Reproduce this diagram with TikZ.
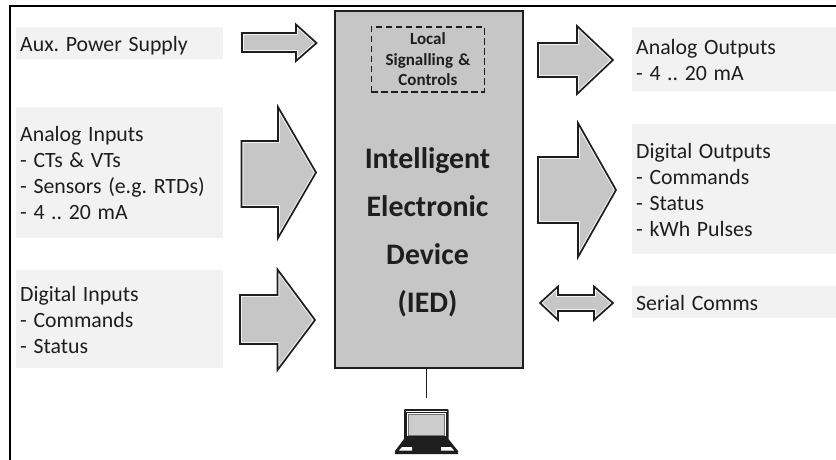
\documentclass[tikz,border=0pt]{standalone}
\usepackage{fontspec}
\setmainfont[WordSpace=1.35]{Carlito}
\frenchspacing
\definecolor{boxgray}{HTML}{F2F2F2}
\definecolor{iedgray}{HTML}{C6C6C6}
\definecolor{ink}{HTML}{1E1E1E}
\newcommand{\blockarrow}[1]{%
  \fill[iedgray] #1;
  \begin{scope}\clip #1; \draw[halo] #1; \end{scope}
  \draw[arrowline] #1;}
\tikzset{
  infobox/.style={fill=boxgray,draw=none,anchor=north west,inner sep=0pt},
  infotext/.style={anchor=west,inner sep=0pt,text=ink,align=left,
    font=\fontsize{21.8}{26.3}\selectfont},
  halo/.style={draw=white!75!iedgray,line width=3.8pt},
  arrowline/.style={draw=ink,line width=1.7pt,line join=miter},
  iedbox/.style={fill=iedgray,draw=ink,line width=2pt,anchor=north west,inner sep=0pt,
    minimum width=188pt,minimum height=357pt},
  localbox/.style={draw=ink,line width=1.8pt,dash pattern=on 6.5pt off 3.5pt,anchor=north west,
    inner sep=0pt,minimum width=113pt,minimum height=65pt,align=center,text=ink,
    font=\fontsize{17}{20.5}\selectfont\bfseries},
  iedtext/.style={anchor=center,text=ink,align=center,inner sep=0pt,
    font=\fontsize{29.8}{48}\selectfont\bfseries},
  frameline/.style={draw=black,line width=2pt},
  linkline/.style={draw=ink,line width=1.3pt}
}
\begin{document}
\begin{tikzpicture}[x=1pt,y=-1pt]
\useasboundingbox (0,0) rectangle (836,460);
\fill[white] (0,0) rectangle (836,460);
\draw[frameline] (9.5,460) -- (9.5,6) -- (836,6);

% text blocks
\node[infobox,minimum width=207pt,minimum height=32pt] (aux) at (16,27) {};
\node[infotext] (auxtext) at (20,45.5) {Aux. Power Supply};
\node[infobox,minimum width=207pt,minimum height=131pt] (ain) at (16,107) {};
\node[infotext] (aintext) at (20,173) {Analog Inputs\\- CTs \& VTs\\- Sensors (e.g. RTDs)\\- 4 .. 20 mA};
\node[infobox,minimum width=207pt,minimum height=98pt] (din) at (16,270) {};
\node[infotext] (dintext) at (20,320) {Digital Inputs\\- Commands\\- Status};
\node[infobox,minimum width=204pt,minimum height=64pt] (aout) at (632,27) {};
\node[infotext] (aouttext) at (636,60) {Analog Outputs\\- 4 .. 20 mA};
\node[infobox,minimum width=204pt,minimum height=130pt] (dout) at (632,124) {};
\node[infotext] (douttext) at (636,190) {Digital Outputs\\- Commands\\- Status\\- kWh Pulses};
\node[infobox,minimum width=204pt,minimum height=32pt] (ser) at (632,286) {};
\node[infotext] (sertext) at (636,303.5) {Serial Comms};

% IED
\node[iedbox] (ied) at (333.5,10) {};
\node[localbox] (local) at (370.5,26) {\raisebox{-1.5pt}{Local}\\\raisebox{-1.5pt}{Signalling \&}\\\raisebox{-1.5pt}{Controls}};
\node[iedtext] (iedlabel) at (427.5,232) {Intelligent\\Electronic\\Device\\(IED)};

% block arrows
\blockarrow{(242,33) -- (296,33) -- (296,24.5) -- (316.5,43) -- (296,61) -- (296,52) -- (242,52) -- cycle}
\blockarrow{(241.5,141) -- (278,141) -- (278,107) -- (316,172.5) -- (278,238) -- (278,207) -- (241.5,207) -- cycle}
\blockarrow{(240,295) -- (277.5,295) -- (277.5,269.5) -- (315,320) -- (277.5,370) -- (277.5,344) -- (240,344) -- cycle}
\blockarrow{(538,43) -- (577,43) -- (577,26) -- (613,60) -- (577,94) -- (577,77) -- (538,77) -- cycle}
\blockarrow{(538,157) -- (578,157) -- (578,123) -- (616,190) -- (578,257) -- (578,223) -- (538,223) -- cycle}
\blockarrow{(540,303) -- (558,286.5) -- (558,295) -- (594,295) -- (594,286.5) -- (613,303) -- (594,320) -- (594,311) -- (558,311) -- (558,320) -- cycle}

% link to laptop
\coordinate (laptop) at (426.5,398);
\draw[linkline] (ied.south -| laptop) -- (laptop);

% laptop
\fill[ink,rounded corners=1pt] (404,409) rectangle (448.5,440);
\fill[white] (405.5,410.5) rectangle (447,412) ;
\fill[white] (407,413) rectangle (445.5,436);
\fill[black!55] (408,414) rectangle (444.5,435.5);
\fill[iedgray!90!white] (409,415) rectangle (443.5,434.5);
\fill[ink] (404,439) -- (448.5,439) -- (458,451) -- (458,454) -- (395,454) -- (395,451) -- cycle;
\fill[white] (399,450.5) -- (412,450.5) -- (412,447) -- (402,447) -- cycle;
\fill[white] (441,447) -- (451,447) -- (454,450.5) -- (441,450.5) -- cycle;
\end{tikzpicture}
\end{document}
